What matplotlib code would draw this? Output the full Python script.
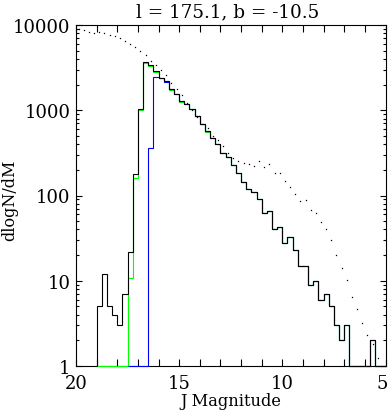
import numpy as np
import matplotlib
matplotlib.use("Agg")
import matplotlib.pyplot as plt
from matplotlib.ticker import MultipleLocator, FixedLocator, LogLocator, NullFormatter, FixedFormatter
from matplotlib.transforms import ScaledTranslation

# ---- data ----
# histogram bin edges: 0.25 mag bins from J=19.0 to J=5.0
bin_edges = 19.0 - 0.25 * np.arange(57)

# total counts (black)
total = [5, 12, 5, 4, 3, 7, 22, 179, 1030, 3660,
         3400, 2920, 2380, 2210, 1790, 1560, 1300, 1190, 1040, 860,
         690, 565, 473, 400, 312, 280, 228, 184, 144, 120,
         109, 91, 63, 65, 41, 43, 28, 33, 23, 15,
         15, 9, 10, 6, 7, 5, 3, 2, 3, 0,
         0, 0, 0, 2, 0, 0]

# green subset (starts at J=19.0)
green = [0, 0, 0, 0, 0, 0, 10.9, 161, 1000, 3560,
         3310, 2840, 2380, 2210, 1740, 1560, 1265, 1190, 1040, 860,
         690, 550, 473, 400, 312, 280, 228, 184, 144, 120,
         109, 91, 63, 65, 41, 43, 28, 33, 23, 15,
         15, 9, 10, 6, 7, 5, 3, 2, 3, 0,
         0, 0, 0, 2, 0, 0]

# blue subset (starts at J=17.5, i.e. bin index 6)
blue = [0, 0, 0, 0, 360, 2440, 2380, 2150, 1790, 1560,
        1300, 1190, 1040, 860, 690, 565, 473, 400, 312, 280,
        228, 184, 144, 120, 109, 91, 63, 65, 41, 43,
        28, 33, 23, 15, 15, 9, 10, 6, 7, 5,
        3, 2, 3, 0, 0, 0, 0, 2, 0, 0]
blue_start = 6

# model prediction (dotted), at bin centres from J=19.875
model_mag = 19.875 - 0.25 * np.arange(59)
model = [8970, 8750, 8220, 8000, 8220, 8000, 7640, 7430, 6980, 6500,
         5940, 5570, 5000, 4460, 3790, 3400, 2980, 2600, 2080, 1770,
         1520, 1210, 995, 832, 695, 619, 504, 444, 378, 316,
         276, 252, 241, 237, 224, 252, 217, 235, 184, 184,
         147, 126, 105, 86.7, 89.1, 68.1, 62.8, 49.4, 40.8, 30.3,
         20.2, 14.3, 10.3, 6.5, 4.6, 3.23, 2.29, 1.79, 1.23]

title = "l = 175.1, b = -10.5"
xlabel = "J Magnitude"
ylabel = "dlogN/dM"
xticks_lab = [20, 15, 10, 5]
yticks_lab = [1, 10, 100, 1000, 10000]

# ---- plot ----
plt.rcParams['font.family'] = ['DejaVu Serif']
fig = plt.figure(figsize=(3.89, 4.14), dpi=100)
ax = fig.add_axes([76/389, 1-367/414, (385.5-76)/389, (367-26)/414])
ax.set_yscale('log')
ax.set_xlim(20, 5)
ax.set_ylim(1, 10000)

ymin = 1.0
lw = 0.8
ax.stairs(np.clip(green, ymin, None), bin_edges, baseline=ymin, color='#00ff00', lw=lw, zorder=3, clip_on=False)
ax.stairs(np.clip(blue, ymin, None), bin_edges[blue_start:], baseline=ymin, color='#0000ff', lw=lw, zorder=4, clip_on=False)
ax.stairs(np.clip(total, ymin, None), bin_edges, baseline=ymin, color='black', lw=lw, zorder=5, clip_on=False)
ax.plot(model_mag, model, linestyle='none', marker='s', markersize=0.9, markeredgewidth=0, color='black', zorder=6)

for s in ax.spines.values():
    s.set_linewidth(0.8)

ax.xaxis.set_major_locator(FixedLocator(xticks_lab))
ax.xaxis.set_major_formatter(FixedFormatter([str(v) for v in xticks_lab]))
ax.xaxis.set_minor_locator(MultipleLocator(1))
ax.yaxis.set_major_locator(FixedLocator(yticks_lab))
ax.yaxis.set_major_formatter(FixedFormatter([str(v) for v in yticks_lab]))
ax.yaxis.set_minor_locator(LogLocator(base=10, subs=np.arange(2, 10)))
ax.yaxis.set_minor_formatter(NullFormatter())

ax.tick_params(axis='x', which='both', direction='in', top=True, length=4.8, width=0.8, labelsize=13, pad=6)
ax.tick_params(axis='y', which='major', direction='in', right=True, length=4.0, width=0.8, labelsize=13, pad=4)
ax.tick_params(axis='y', which='minor', direction='in', right=True, length=2.3, width=0.8)

# keep the last x tick label inside the figure
last = ax.get_xticklabels()[-1]
last.set_transform(last.get_transform() + ScaledTranslation(-3/100, 0, fig.dpi_scale_trans))

fig.text(228/389, 1-12/414, title, fontsize=13.2, ha='center', va='center')
fig.text(231/389, 1-402/414, xlabel, fontsize=11.7, ha='center', va='center')
fig.text(10/389, 1-200/414, ylabel, fontsize=11.5, ha='center', va='center', rotation=90)

fig.savefig("out.png", dpi=100)
